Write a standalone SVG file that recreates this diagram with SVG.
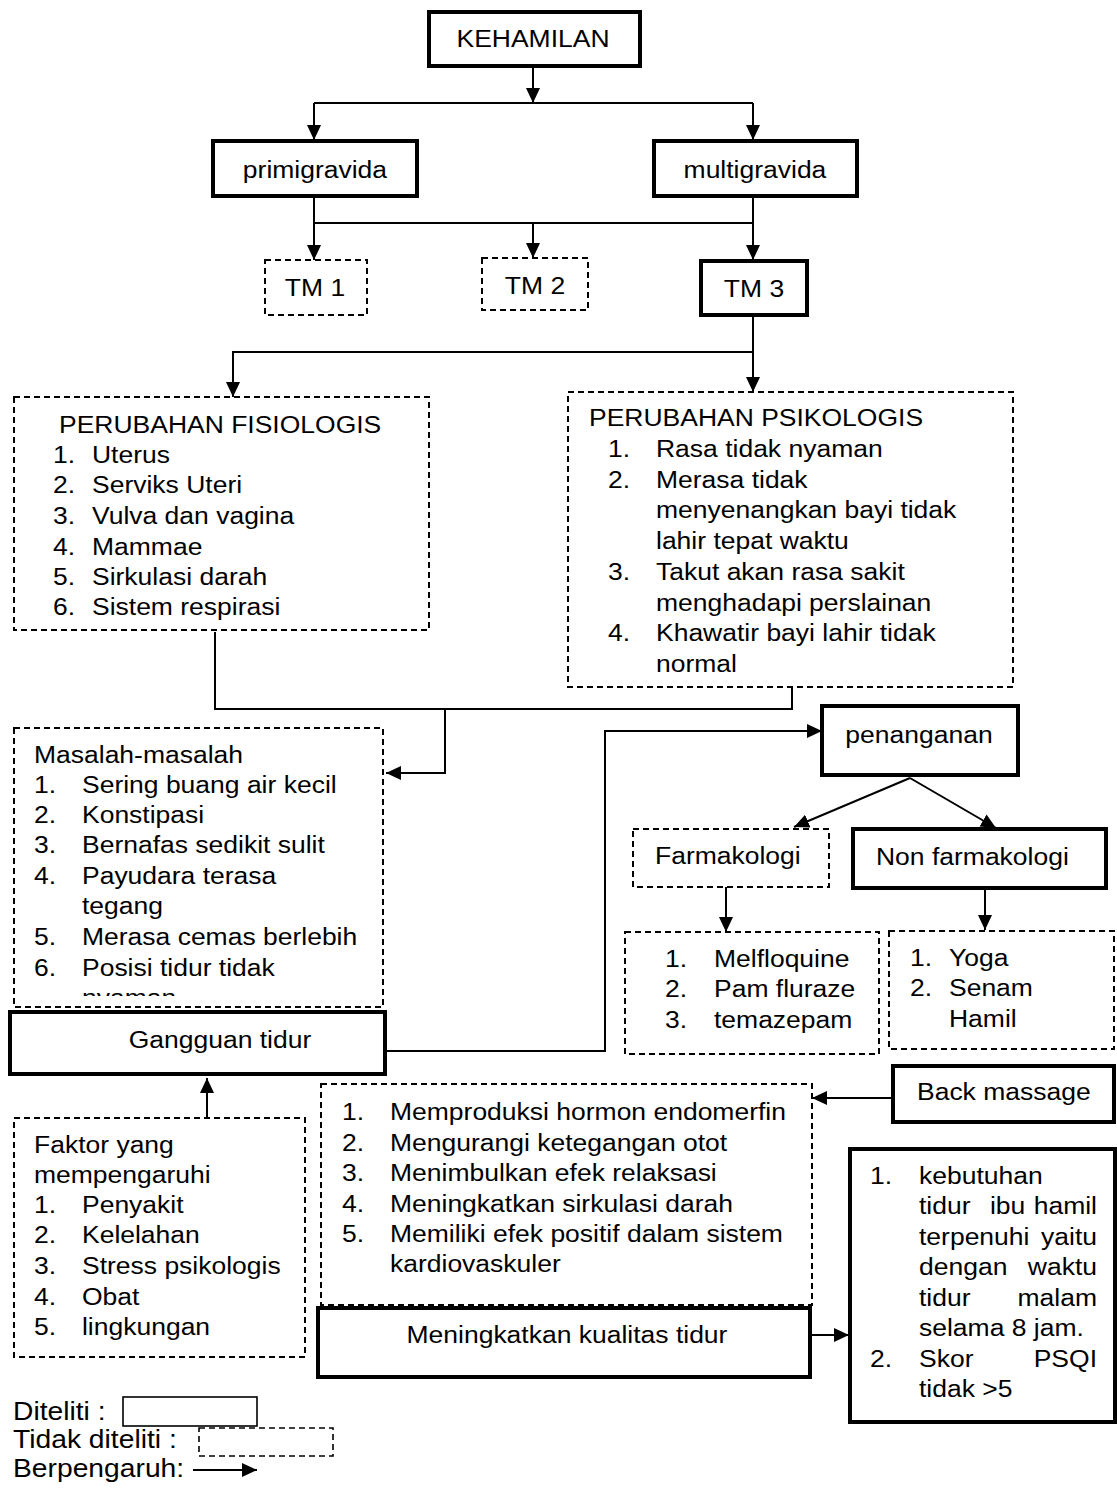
<svg xmlns="http://www.w3.org/2000/svg" width="1117" height="1495" viewBox="0 0 1117 1495">
<style>
  .bg { fill: #fff; }
  .thick { fill: #fff; stroke: #000; stroke-width: 4; }
  .dash { fill: #fff; stroke: #000; stroke-width: 2; stroke-dasharray: 6 4; }
  .thin { fill: #fff; stroke: #000; stroke-width: 1.6; }
  .con { fill: none; stroke: #000; stroke-width: 2; }
  text { font-family: "Liberation Sans", Arial, sans-serif; font-size: 24.2px; fill: #000; }
  .s { transform-box: fill-box; transform-origin: 0 50%; transform: scaleX(1.095); }
  .m { text-anchor: middle; transform-box: fill-box; transform-origin: 50% 50%; transform: scaleX(1.095); }
  .e { text-anchor: end; transform-box: fill-box; transform-origin: 100% 50%; transform: scaleX(1.095); }
  .lg { font-size: 25.8px; }
</style>
<defs>
  <marker id="ah" markerUnits="userSpaceOnUse" viewBox="0 0 15 14" markerWidth="15" markerHeight="14" refX="15" refY="7" orient="auto">
    <path d="M0,0 L15,7 L0,14 z" fill="#000"/>
  </marker>
  <clipPath id="clipMasalah"><rect x="10" y="728" width="380" height="268"/></clipPath>
</defs>
<rect class="bg" x="0" y="0" width="1117" height="1495" fill="#fff"/>

<g id="connectors">
  <path class="con" d="M533,66 V103" marker-end="url(#ah)"/>
  <path class="con" d="M314,103 H753"/>
  <path class="con" d="M314,103 V140" marker-end="url(#ah)"/>
  <path class="con" d="M753,103 V140" marker-end="url(#ah)"/>
  <path class="con" d="M314,196 V223 H753 M753,196 V223"/>
  <path class="con" d="M314,223 V260" marker-end="url(#ah)"/>
  <path class="con" d="M533,223 V258" marker-end="url(#ah)"/>
  <path class="con" d="M753,223 V260" marker-end="url(#ah)"/>
  <path class="con" d="M753,315 V392" marker-end="url(#ah)"/>
  <path class="con" d="M753,352 H233 V397" marker-end="url(#ah)"/>
  <path class="con" d="M215,632 V709 H792 V688"/>
  <path class="con" d="M445,709 V773 H386" marker-end="url(#ah)"/>
  <path class="con" d="M385,1051 H605 V731 H822" marker-end="url(#ah)"/>
  <path class="con" d="M910,778 L794,827" marker-end="url(#ah)"/>
  <path class="con" d="M910,778 L996,828" marker-end="url(#ah)"/>
  <path class="con" d="M726,887 V932" marker-end="url(#ah)"/>
  <path class="con" d="M985,888 V930" marker-end="url(#ah)"/>
  <path class="con" d="M893,1098 H812" marker-end="url(#ah)"/>
  <path class="con" d="M207,1118 V1078" marker-end="url(#ah)"/>
  <path class="con" d="M810,1335 H849" marker-end="url(#ah)"/>
</g>

<g id="kehamilan">
  <rect class="thick" x="429" y="12" width="211" height="54"/>
  <text class="m" x="533" y="47">KEHAMILAN</text>
</g>
<g id="primigravida">
  <rect class="thick" x="213" y="141" width="204" height="55"/>
  <text class="m" x="315" y="178">primigravida</text>
</g>
<g id="multigravida">
  <rect class="thick" x="654" y="141" width="203" height="55"/>
  <text class="m" x="755" y="178">multigravida</text>
</g>
<g id="tm1">
  <rect class="dash" x="265" y="260" width="102" height="55"/>
  <text class="m" x="315" y="296">TM 1</text>
</g>
<g id="tm2">
  <rect class="dash" x="482" y="258" width="106" height="52"/>
  <text class="m" x="535" y="294">TM 2</text>
</g>
<g id="tm3">
  <rect class="thick" x="701" y="261" width="106" height="54"/>
  <text class="m" x="754" y="297">TM 3</text>
</g>

<g id="fisiologis">
  <rect class="dash" x="14" y="397" width="415" height="233"/>
  <text class="s" x="59" y="433">PERUBAHAN FISIOLOGIS</text>
  <text class="s" x="53" y="463">1.</text><text class="s" x="92" y="463">Uterus</text>
  <text class="s" x="53" y="493">2.</text><text class="s" x="92" y="493">Serviks Uteri</text>
  <text class="s" x="53" y="524">3.</text><text class="s" x="92" y="524">Vulva dan vagina</text>
  <text class="s" x="53" y="555">4.</text><text class="s" x="92" y="555">Mammae</text>
  <text class="s" x="53" y="585">5.</text><text class="s" x="92" y="585">Sirkulasi darah</text>
  <text class="s" x="53" y="615">6.</text><text class="s" x="92" y="615">Sistem respirasi</text>
</g>

<g id="psikologis">
  <rect class="dash" x="568" y="392" width="445" height="295"/>
  <text class="s" x="589" y="426">PERUBAHAN PSIKOLOGIS</text>
  <text class="s" x="608" y="457">1.</text><text class="s" x="656" y="457">Rasa tidak nyaman</text>
  <text class="s" x="608" y="488">2.</text><text class="s" x="656" y="488">Merasa tidak</text>
  <text class="s" x="656" y="518">menyenangkan bayi tidak</text>
  <text class="s" x="656" y="549">lahir tepat waktu</text>
  <text class="s" x="608" y="580">3.</text><text class="s" x="656" y="580">Takut akan rasa sakit</text>
  <text class="s" x="656" y="611">menghadapi perslainan</text>
  <text class="s" x="608" y="641">4.</text><text class="s" x="656" y="641">Khawatir bayi lahir tidak</text>
  <text class="s" x="656" y="672">normal</text>
</g>

<g id="masalah">
  <rect class="dash" x="14" y="728" width="369" height="279"/>
  <text class="s" x="34" y="763">Masalah-masalah</text>
  <text class="s" x="34" y="793">1.</text><text class="s" x="82" y="793">Sering buang air kecil</text>
  <text class="s" x="34" y="823">2.</text><text class="s" x="82" y="823">Konstipasi</text>
  <text class="s" x="34" y="853">3.</text><text class="s" x="82" y="853">Bernafas sedikit sulit</text>
  <text class="s" x="34" y="884">4.</text><text class="s" x="82" y="884">Payudara terasa</text>
  <text class="s" x="82" y="914">tegang</text>
  <text class="s" x="34" y="945">5.</text><text class="s" x="82" y="945">Merasa cemas berlebih</text>
  <text class="s" x="34" y="976">6.</text><text class="s" x="82" y="976">Posisi tidur tidak</text>
  <g clip-path="url(#clipMasalah)"><text class="s" x="82" y="1006">nyaman</text></g>
</g>

<g id="gangguan-tidur">
  <rect class="thick" x="10" y="1012" width="375" height="62"/>
  <text class="m" x="220" y="1048">Gangguan tidur</text>
</g>

<g id="penanganan">
  <rect class="thick" x="822" y="706" width="196" height="69"/>
  <text class="m" x="919" y="743">penanganan</text>
</g>
<g id="farmakologi">
  <rect class="dash" x="633" y="829" width="196" height="58"/>
  <text class="s" x="655" y="864">Farmakologi</text>
</g>
<g id="non-farmakologi">
  <rect class="thick" x="853" y="829" width="253" height="59"/>
  <text class="s" x="876" y="865">Non farmakologi</text>
</g>
<g id="obat-farmakologi">
  <rect class="dash" x="625" y="932" width="254" height="122"/>
  <text class="s" x="665" y="967">1.</text><text class="s" x="714" y="967">Melfloquine</text>
  <text class="s" x="665" y="997">2.</text><text class="s" x="714" y="997">Pam fluraze</text>
  <text class="s" x="665" y="1028">3.</text><text class="s" x="714" y="1028">temazepam</text>
</g>
<g id="non-farmakologi-list">
  <rect class="dash" x="889" y="931" width="225" height="118"/>
  <text class="s" x="910" y="966">1.</text><text class="s" x="949" y="966">Yoga</text>
  <text class="s" x="910" y="996">2.</text><text class="s" x="949" y="996">Senam</text>
  <text class="s" x="949" y="1027">Hamil</text>
</g>

<g id="back-massage">
  <rect class="thick" x="893" y="1066" width="221" height="56"/>
  <text class="s" x="917" y="1100">Back massage</text>
</g>

<g id="manfaat">
  <rect class="dash" x="321" y="1084" width="491" height="221"/>
  <text class="s" x="342" y="1120">1.</text><text class="s" x="390" y="1120">Memproduksi hormon endomerfin</text>
  <text class="s" x="342" y="1151">2.</text><text class="s" x="390" y="1151">Mengurangi ketegangan otot</text>
  <text class="s" x="342" y="1181">3.</text><text class="s" x="390" y="1181">Menimbulkan efek relaksasi</text>
  <text class="s" x="342" y="1212">4.</text><text class="s" x="390" y="1212">Meningkatkan sirkulasi darah</text>
  <text class="s" x="342" y="1242">5.</text><text class="s" x="390" y="1242">Memiliki efek positif dalam sistem</text>
  <text class="s" x="390" y="1272">kardiovaskuler</text>
</g>

<g id="kualitas-tidur">
  <rect class="thick" x="318" y="1308" width="492" height="69"/>
  <text class="m" x="567" y="1343">Meningkatkan kualitas tidur</text>
</g>

<g id="hasil">
  <rect class="thick" x="850" y="1149" width="265" height="273"/>
  <text class="s" x="870" y="1184">1.</text><text class="s" x="919" y="1184">kebutuhan</text>
  <text class="s" x="919" y="1214">tidur</text><text class="s" x="990" y="1214">ibu</text><text class="e" x="1097" y="1214">hamil</text>
  <text class="s" x="919" y="1245">terpenuhi</text><text class="e" x="1097" y="1245">yaitu</text>
  <text class="s" x="919" y="1275">dengan</text><text class="e" x="1097" y="1275">waktu</text>
  <text class="s" x="919" y="1306">tidur</text><text class="e" x="1097" y="1306">malam</text>
  <text class="s" x="919" y="1336">selama 8 jam.</text>
  <text class="s" x="870" y="1367">2.</text><text class="s" x="919" y="1367">Skor</text><text class="e" x="1097" y="1367">PSQI</text>
  <text class="s" x="919" y="1397">tidak &gt;5</text>
</g>

<g id="faktor">
  <rect class="dash" x="14" y="1118" width="291" height="239"/>
  <text class="s" x="34" y="1153">Faktor yang</text>
  <text class="s" x="34" y="1183">mempengaruhi</text>
  <text class="s" x="34" y="1213">1.</text><text class="s" x="82" y="1213">Penyakit</text>
  <text class="s" x="34" y="1243">2.</text><text class="s" x="82" y="1243">Kelelahan</text>
  <text class="s" x="34" y="1274">3.</text><text class="s" x="82" y="1274">Stress psikologis</text>
  <text class="s" x="34" y="1305">4.</text><text class="s" x="82" y="1305">Obat</text>
  <text class="s" x="34" y="1335">5.</text><text class="s" x="82" y="1335">lingkungan</text>
</g>

<g id="legend">
  <text class="s lg" x="13" y="1420">Diteliti :</text>
  <rect class="thin" x="123" y="1397" width="134" height="29"/>
  <text class="s lg" x="13" y="1448">Tidak diteliti :</text>
  <rect class="dash" x="199" y="1428" width="134" height="28" style="stroke-width:1.6"/>
  <text class="s lg" x="13" y="1477">Berpengaruh:</text>
  <path class="con" d="M193,1470 H257" marker-end="url(#ah)"/>
</g>
</svg>
